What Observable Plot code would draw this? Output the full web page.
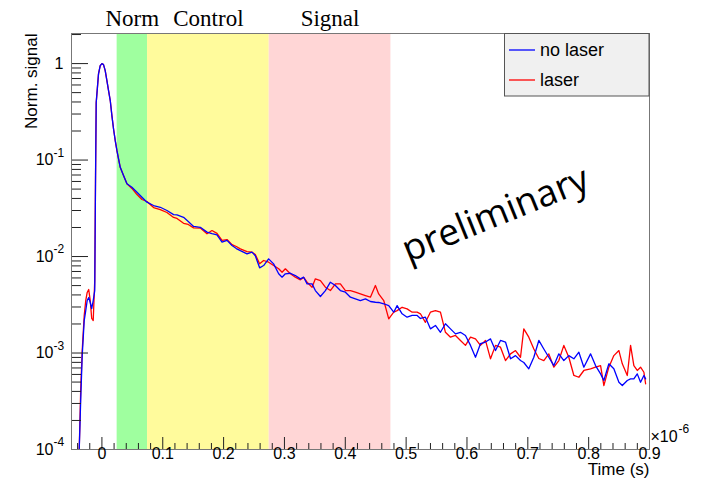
<!DOCTYPE html>
<html><head><meta charset="utf-8">
<script src="https://cdn.jsdelivr.net/npm/d3@7"></script>
<script src="https://cdn.jsdelivr.net/npm/@observablehq/plot@0.6"></script>
<style>body{margin:0;background:#fff}#chart{width:702px;height:485px}</style>
</head><body><div id="chart"></div>
<script>
// time in units of 1e-6 s
const time = [-0.0373,-0.0349,-0.0324,-0.0291,-0.0266,-0.0242,-0.0217,-0.0192,-0.0168,-0.0143,
-0.0118,-0.0105,-0.0094,-0.0056,-0.0028,0,0.0026,0.0054,0.0082,0.0109,
0.0137,0.0164,0.0191,0.0219,0.0247,0.0273,0.0301,0.0355,0.0411,0.0493,
0.0576,0.0658,0.074,0.0849,0.0959,0.1069,0.1178,0.1234,0.1342,0.1419,
0.1507,0.1617,0.1727,0.1809,0.1891,0.1974,0.2056,0.2138,0.2209,0.2275,
0.2385,0.2467,0.2521,0.2592,0.2658,0.274,0.2822,0.2905,0.2961,0.3015,
0.3097,0.3179,0.3262,0.3316,0.3372,0.3454,0.3508,0.3591,0.3673,0.3755,
0.3837,0.3919,0.4002,0.4084,0.4166,0.4248,0.4331,0.4413,0.4495,0.4549,
0.4632,0.4714,0.4796,0.4852,0.4934,0.5016,0.5099,0.5181,0.5235,0.5317,
0.5399,0.5482,0.5564,0.5646,0.5729,0.5811,0.5893,0.5975,0.6058,0.614,
0.6222,0.6304,0.6387,0.6469,0.6551,0.6633,0.6716,0.6798,0.688,0.6934,
0.7016,0.7099,0.7181,0.7263,0.7345,0.7428,0.751,0.7592,0.7674,0.7757,
0.7839,0.7921,0.8031,0.8113,0.8196,0.825,0.8332,0.8414,0.8497,0.8553,
0.8635,0.8689,0.8743,0.8799,0.8853,0.8908,0.8936];

const noLaser = [1.0e-4,3.2e-4,9.4e-4,2.17e-3,2.75e-3,3.5e-3,3.76e-3,3.34e-3,2.89e-3,3.5e-3,
4.44e-3,0.0613,0.394,0.782,0.953,1.0,0.976,0.846,0.667,0.525,
0.414,0.289,0.21,0.159,0.125,0.103,0.0842,0.069,0.0567,0.0523,
0.0464,0.0412,0.0366,0.0338,0.0324,0.030,0.0272,0.027,0.0255,0.0231,
0.0205,0.0201,0.0179,0.0173,0.0168,0.0141,0.0147,0.013,0.0121,0.0115,
0.01067,0.0111,0.0102,0.00764,0.00807,0.00946,0.0084,0.00662,0.00611,0.00662,
0.00671,0.00635,0.00587,0.00611,0.00521,0.00521,0.00444,0.00385,0.00444,0.00542,
0.00501,0.00444,0.00427,0.00379,0.00364,0.0035,0.00364,0.00342,0.00336,0.00334,
0.00324,0.0031,0.00265,0.0031,0.00255,0.00235,0.00245,0.00245,0.00228,0.00235,
0.00178,0.00193,0.00164,0.00201,0.00178,0.00158,0.00164,0.00152,0.0012,0.000904,
0.00125,0.0013,0.0014,0.00106,0.00135,0.0013,0.000871,0.00094,0.000836,0.000798,
0.000686,0.000904,0.00135,0.0011,0.000904,0.000741,0.00098,0.000836,0.00094,0.000871,
0.00102,0.000713,0.00098,0.000741,0.000608,0.000519,0.000773,0.000686,0.000498,0.00046,
0.000519,0.00054,0.00054,0.000608,0.000498,0.000585,0.00054];

const laser = [1.0e-4,4.1e-4,1.06e-3,2.45e-3,3.5e-3,4.24e-3,4.55e-3,3.5e-3,2.28e-3,2.17e-3,
5.64e-3,0.069,0.394,0.782,0.953,1.0,0.976,0.846,0.667,0.525,
0.414,0.289,0.21,0.159,0.125,0.103,0.0842,0.069,0.0567,0.0508,
0.0439,0.039,0.0372,0.0322,0.0307,0.0286,0.0254,0.0248,0.0221,0.0215,
0.0198,0.0197,0.0172,0.0186,0.0174,0.0147,0.015,0.0133,0.0127,0.012,
0.01127,0.0111,0.0105,0.0084,0.0091,0.00873,0.00807,0.00746,0.00688,0.00746,
0.00662,0.00611,0.00574,0.00607,0.00542,0.00481,0.00587,0.00564,0.00481,0.00444,
0.00521,0.00521,0.00444,0.00444,0.00427,0.0041,0.00394,0.00379,0.00501,0.0041,
0.0035,0.00226,0.00265,0.00275,0.00298,0.00287,0.00265,0.00265,0.00255,0.00208,
0.00265,0.00275,0.00265,0.00164,0.00146,0.00152,0.00135,0.0012,0.00146,0.0014,
0.0012,0.00135,0.000871,0.0012,0.00115,0.000836,0.00098,0.00106,0.000904,0.00178,
0.00146,0.0011,0.000877,0.000836,0.00098,0.000713,0.000836,0.0012,0.000904,0.000585,
0.000561,0.000659,0.000686,0.000713,0.000741,0.00046,0.000713,0.00094,0.00106,0.000773,
0.000585,0.0012,0.000741,0.000659,0.000713,0.000632,0.00048];

const bandNames = ["Norm", "Control", "Signal"];
const bandStart = [0.025, 0.075, 0.275];
const bandEnd = [0.075, 0.275, 0.475];
const bandColors = ["#9fff9f", "#fffb9c", "#ffd6d6"];

const seriesNames = ["no laser", "laser"];
const seriesColors = ["#0000ff", "#ff0000"];

const xMajorTicks = [0, 0.1, 0.2, 0.3, 0.4, 0.5, 0.6, 0.7, 0.8, 0.9];
const xTickLabels = ["0", "0.1", "0.2", "0.3", "0.4", "0.5", "0.6", "0.7", "0.8", "0.9"];
const yMajorTicks = [1e-4, 1e-3, 1e-2, 1e-1, 1];
const yTickMantissa = ["10", "10", "10", "10", "1"];
const yTickExponent = ["-4", "-3", "-2", "-1", ""];
const xAxisTitle = "Time (s)";
const xMultiplierBase = "\u00D710";
const xMultiplierExp = "-6";
const yAxisTitle = "Norm. signal";
const watermark = "preliminary";

const xDomain = [-0.05, 0.9];
const yDomain = [1e-4, 2.05];

const xMinorTicks = d3.range(-2, 46).map(i => i / 50).filter(v => Math.abs(v * 10 - Math.round(v * 10)) > 1e-9);
const yMinorTicks = [];
for (let e = -4; e <= 0; e++) for (let k = 2; k <= 9; k++) { const v = k * Math.pow(10, e); if (v <= yDomain[1]) yMinorTicks.push(v); }

const W = 702, H = 485, mL = 71, mR = 53, mT = 33, mB = 36;
const fw = W - mL - mR, fh = H - mT - mB;

const bands = bandNames.map((n, i) => ({name: n, x1: bandStart[i], x2: bandEnd[i], fill: bandColors[i]}));
const blueData = time.map((t, i) => ({t, v: noLaser[i]}));
const redData = time.map((t, i) => ({t, v: laser[i]}));
const yPow = yMajorTicks.map((v, i) => ({v, m: yTickMantissa[i], e: yTickExponent[i]}));

const sans = "'Liberation Sans', Arial, Helvetica, sans-serif";
const serif = "'Liberation Serif', 'Times New Roman', serif";

const svg = Plot.plot({
  width: W, height: H,
  marginLeft: mL, marginRight: mR, marginTop: mT, marginBottom: mB,
  style: {fontFamily: sans, background: "#fff", color: "#000"},
  x: {type: "linear", domain: xDomain, axis: null},
  y: {type: "log", domain: yDomain, axis: null},
  marks: [
    Plot.rect(bands, {x1: "x1", x2: "x2", fill: "fill"}),
    Plot.text(bands, {x: d => (d.x1 + d.x2) / 2, text: "name", frameAnchor: "top", lineAnchor: "bottom", dy: -8, fontFamily: serif, fontSize: 23}),
    Plot.line(redData, {x: "t", y: "v", stroke: seriesColors[1], strokeWidth: 1.3, clip: true}),
    Plot.line(blueData, {x: "t", y: "v", stroke: seriesColors[0], strokeWidth: 1.3, clip: true}),
    Plot.tickX(xMajorTicks, {x: d => d, insetTop: fh - 12, stroke: "#222"}),
    Plot.tickX(xMinorTicks, {x: d => d, insetTop: fh - 6, stroke: "#222"}),
    Plot.tickY(yMajorTicks, {y: d => d, insetRight: fw - 17, stroke: "#222"}),
    Plot.tickY(yMinorTicks, {y: d => d, insetRight: fw - 10, stroke: "#222"}),
    Plot.frame({stroke: "#777"}),
    Plot.text(xMajorTicks, {x: d => d, text: (d, i) => xTickLabels[i], frameAnchor: "bottom", dy: 9, fontSize: 16}),
    Plot.text(yPow.filter(d => d.e), {y: "v", text: "m", frameAnchor: "left", textAnchor: "end", dx: -18, fontSize: 16}),
    Plot.text(yPow.filter(d => d.e), {y: "v", text: "e", frameAnchor: "left", textAnchor: "start", dx: -18, dy: -7, fontSize: 12}),
    Plot.text(yPow.filter(d => !d.e), {y: "v", text: "m", frameAnchor: "left", textAnchor: "end", dx: -8, fontSize: 16}),
    Plot.text([yAxisTitle], {text: d => d, frameAnchor: "top-left", rotate: -90, textAnchor: "end", lineAnchor: "bottom", dx: -35, fontSize: 17}),
    Plot.text([xAxisTitle], {text: d => d, frameAnchor: "bottom-right", textAnchor: "end", dy: 25, fontSize: 17}),
    Plot.text([xMultiplierBase], {text: d => d, frameAnchor: "bottom-right", textAnchor: "start", dx: 1, dy: -8, fontSize: 16}),
    Plot.text([xMultiplierExp], {text: d => d, frameAnchor: "bottom-right", textAnchor: "start", dx: 29, dy: -17, fontSize: 12}),
    Plot.text([watermark], {text: d => d, frameAnchor: "top-left", textAnchor: "middle", lineAnchor: "middle", dx: 495 - mL, dy: 214 - mT, rotate: -22, fontSize: 37, fontFamily: "'Open Sans', 'Noto Sans', sans-serif"})
  ]
});

// legend
const g = d3.select(svg).append("g");
g.append("rect").attr("x", 504.5).attr("y", 33.5).attr("width", 144.5).attr("height", 62.5)
  .attr("fill", "#f0f0f0").attr("stroke", "#555");
seriesNames.forEach((n, i) => {
  const cy = 50 + i * 30;
  g.append("line").attr("x1", 509).attr("x2", 535).attr("y1", cy).attr("y2", cy)
    .attr("stroke", seriesColors[i]).attr("stroke-width", 1.3);
  g.append("text").attr("x", 540).attr("y", cy + 6).attr("font-size", 18)
    .attr("text-anchor", "start").attr("font-family", sans).attr("fill", "#000").text(n);
});

document.getElementById("chart").appendChild(svg);
</script>
</body></html>
